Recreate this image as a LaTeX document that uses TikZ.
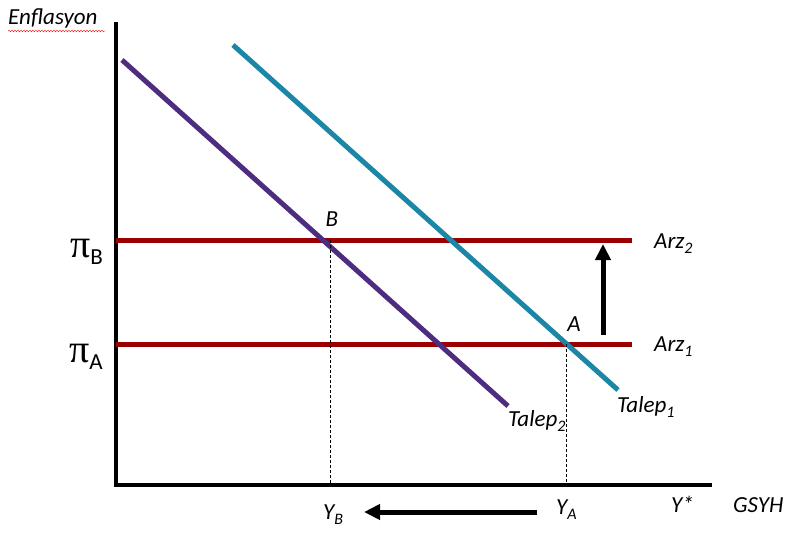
\documentclass[tikz,border=0pt]{standalone}
\usepackage{fontspec}
\setmainfont{Carlito}
\newfontfamily\pifont{Liberation Serif}
\usetikzlibrary{arrows.meta,decorations.pathmorphing}
\definecolor{arzred}{HTML}{9B0000}
\definecolor{talepteal}{HTML}{1C86A6}
\definecolor{taleppurple}{HTML}{4E2D80}
\newcommand{\lowsub}[1]{\raisebox{-5pt}{\fontsize{16}{16}\selectfont #1}}
\tikzset{
  axisline/.style={line width=4pt, black},
  arzline/.style={line width=5pt, arzred},
  talep1line/.style={line width=5pt, talepteal},
  talep2line/.style={line width=5pt, taleppurple},
  guide/.style={thin, black, dash pattern=on 3pt off 2pt},
  bigarrow/.style={line width=5pt, black, -{Triangle[length=16pt,width=15pt]}},
  lbl/.style={inner sep=0pt, font=\fontsize{23}{26}\selectfont\itshape},
  pilbl/.style={inner sep=0pt, font=\fontsize{23}{26}\selectfont},
}
\begin{document}
\begin{tikzpicture}[x=1pt,y=-1pt]
\useasboundingbox (0,0) rectangle (798,533);
% axes
\coordinate (O) at (116,485);
\coordinate (Ytop) at (116,22);
\coordinate (Xend) at (712,485);
\draw[axisline] (Ytop) -- (O) -- (Xend);
% arz lines
\coordinate (arzBstart) at (116,240);
\coordinate (arzBend) at (632,240);
\coordinate (arzAstart) at (116,344);
\coordinate (arzAend) at (632,344);
\draw[arzline] (arzBstart) -- (arzBend);
\draw[arzline] (arzAstart) -- (arzAend);
% talep lines
\coordinate (t2start) at (122,60);
\coordinate (t2end) at (508,406);
\coordinate (t1start) at (233,45);
\coordinate (t1end) at (618,390);
\draw[talep2line] (t2start) -- (t2end);
\draw[talep1line] (t1start) -- (t1end);
% guides
\coordinate (Bpt) at (330,240);
\coordinate (Bfoot) at (330,485);
\coordinate (Apt) at (566,344);
\coordinate (Afoot) at (566,485);
\draw[guide] (Bpt) -- (Bfoot);
\draw[guide] (Apt) -- (Afoot);
% arrows
\coordinate (upS) at (603,335);
\coordinate (upE) at (603,244);
\draw[bigarrow] (upS) -- (upE);
\coordinate (lfS) at (537,512);
\coordinate (lfE) at (364,512);
\draw[bigarrow] (lfS) -- (lfE);
% labels
\node[lbl, anchor=base west] (enf) at (8,24) {Enflasyon};
\draw[red, thin, decorate, decoration={snake, amplitude=0.8pt, segment length=3pt}] (8,31) -- (105,31);
\node[pilbl, anchor=base east] (piB) at (103,257) {{\pifont\fontsize{40}{40}\selectfont π}\raisebox{-7pt}{B}};
\node[pilbl, anchor=base east] (piA) at (103,362) {{\pifont\fontsize{40}{40}\selectfont π}\raisebox{-7pt}{A}};
\node[lbl, anchor=base] (labB) at (332,226) {B};
\node[lbl, anchor=base] (labA) at (574,331) {A};
\node[lbl, anchor=base west] (arz2) at (654,248) {Arz\lowsub{2}};
\node[lbl, anchor=base west] (arz1) at (654,351) {Arz\lowsub{1}};
\node[lbl, anchor=base west] (tal2) at (508,426) {Talep\lowsub{2}};
\node[lbl, anchor=base west] (tal1) at (617,412) {Talep\lowsub{1}};
\node[lbl, anchor=base west] (YB) at (323,519) {Y\lowsub{B}};
\node[lbl, anchor=base west] (YA) at (556,514) {Y\lowsub{A}};
\node[lbl, anchor=base west] (Ystar) at (671,512) {Y*};
\node[lbl, anchor=base west] (gsyh) at (733,512) {GSYH};
\end{tikzpicture}
\end{document}
